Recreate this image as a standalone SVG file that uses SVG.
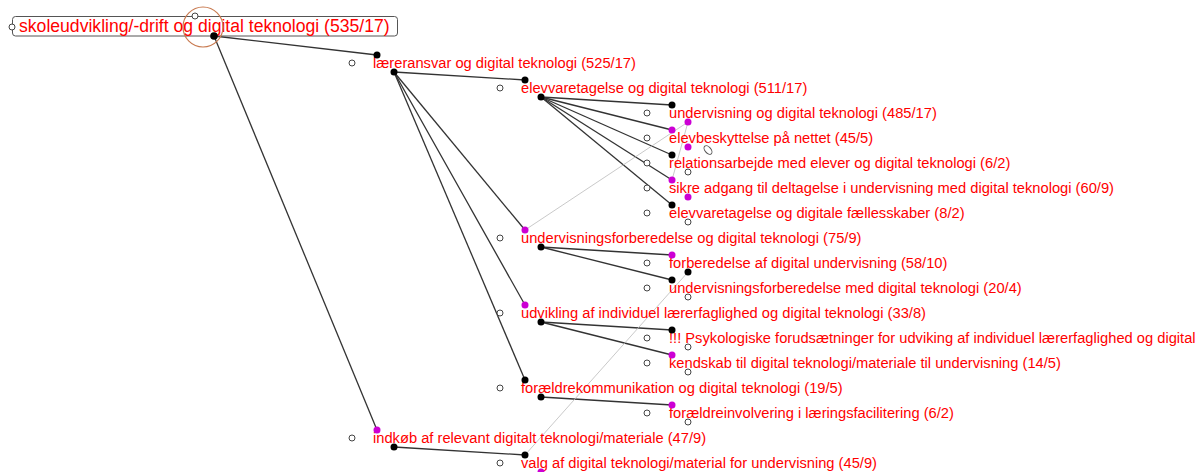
<svg xmlns="http://www.w3.org/2000/svg" width="1204" height="472" viewBox="0 0 1204 472">
<style>
.t{font-family:"Liberation Sans",Arial,sans-serif;font-size:14.7px;fill:#ff0000}
.rt{font-family:"Liberation Sans",Arial,sans-serif;font-size:17.6px;fill:#ff0000}
.o{fill:#fff;stroke:#444;stroke-width:1}
.b{fill:#000}
.m{fill:#cc00d4}
.c{stroke:#333;stroke-width:1.3;fill:none}
.g{stroke:#bbb;stroke-width:0.8;fill:none}
</style>
<rect width="1204" height="472" fill="#fff"/>
<g id="connectors">
<line class="c" x1="214" y1="36" x2="377" y2="55"/>
<line class="c" x1="214" y1="36" x2="377" y2="430"/>
<line class="c" x1="394" y1="72" x2="525" y2="80"/>
<line class="c" x1="394" y1="72" x2="525" y2="230"/>
<line class="c" x1="394" y1="72" x2="525" y2="305"/>
<line class="c" x1="394" y1="72" x2="525" y2="380"/>
<line class="c" x1="541" y1="97" x2="672" y2="105"/>
<line class="c" x1="541" y1="97" x2="672" y2="130"/>
<line class="c" x1="541" y1="97" x2="672" y2="155"/>
<line class="c" x1="541" y1="97" x2="672" y2="180"/>
<line class="c" x1="541" y1="97" x2="672" y2="205"/>
<line class="c" x1="541" y1="247" x2="672" y2="255"/>
<line class="c" x1="541" y1="247" x2="672" y2="280"/>
<line class="c" x1="541" y1="322" x2="672" y2="330"/>
<line class="c" x1="541" y1="322" x2="672" y2="355"/>
<line class="c" x1="541" y1="397" x2="672" y2="405"/>
<line class="c" x1="394" y1="447" x2="525" y2="455"/>
<line class="g" x1="525" y1="230" x2="688" y2="122"/>
<line class="g" x1="672" y1="180" x2="688" y2="122"/>
<line class="g" x1="525" y1="455" x2="688" y2="272"/>
</g>
<g id="n0">
<rect x="12.5" y="16.5" width="385" height="19.5" rx="3" fill="none" stroke="#555" stroke-width="1"/>
<text class="rt" x="19" y="32">skoleudvikling/-drift og digital teknologi (535/17)</text>
<circle cx="203" cy="27" r="20" fill="none" stroke="#c87a50" stroke-width="1.2"/>
<circle class="o" cx="12" cy="27" r="3"/>
<circle class="o" cx="195" cy="16" r="3"/>
<circle class="b" cx="214" cy="36" r="3.8"/>
</g>
<g id="n1">
<text class="t" x="373" y="68">læreransvar og digital teknologi (525/17)</text>
<circle class="o" cx="352" cy="63" r="3"/><circle class="b" cx="377" cy="55" r="3.5"/><circle class="b" cx="394" cy="72" r="3.5"/>
</g>
<g id="n2">
<text class="t" x="521" y="93">elevvaretagelse og digital teknologi (511/17)</text>
<circle class="o" cx="500" cy="88" r="3"/><circle class="b" cx="525" cy="80" r="3.5"/><circle class="b" cx="541" cy="97" r="3.5"/>
</g>
<g id="n3">
<text class="t" x="669" y="118">undervisning og digital teknologi (485/17)</text>
<circle class="o" cx="647" cy="113" r="3"/><circle class="b" cx="672" cy="105" r="3.5"/><circle class="m" cx="688" cy="122" r="3.5"/>
</g>
<g id="n4">
<text class="t" x="669" y="143">elevbeskyttelse på nettet (45/5)</text>
<circle class="o" cx="647" cy="138" r="3"/><circle class="m" cx="672" cy="130" r="3.5"/><circle class="m" cx="688" cy="147" r="3.5"/>
<ellipse cx="708" cy="150" rx="3" ry="5" transform="rotate(-40 708 150)" fill="none" stroke="#555" stroke-width="1"/>
</g>
<g id="n5">
<text class="t" x="669" y="168">relationsarbejde med elever og digital teknologi (6/2)</text>
<circle class="o" cx="647" cy="163" r="3"/><circle class="b" cx="672" cy="155" r="3.5"/><circle class="o" cx="688" cy="172" r="3"/>
</g>
<g id="n6">
<text class="t" x="669" y="193">sikre adgang til deltagelse i undervisning med digital teknologi (60/9)</text>
<circle class="o" cx="647" cy="188" r="3"/><circle class="m" cx="672" cy="180" r="3.5"/><circle class="m" cx="688" cy="197" r="3.5"/>
</g>
<g id="n7">
<text class="t" x="669" y="218">elevvaretagelse og digitale fællesskaber (8/2)</text>
<circle class="o" cx="647" cy="213" r="3"/><circle class="b" cx="672" cy="205" r="3.5"/><circle class="o" cx="688" cy="222" r="3"/>
</g>
<g id="n8">
<text class="t" x="521" y="243">undervisningsforberedelse og digital teknologi (75/9)</text>
<circle class="o" cx="500" cy="238" r="3"/><circle class="m" cx="525" cy="230" r="3.5"/><circle class="b" cx="541" cy="247" r="3.5"/>
</g>
<g id="n9">
<text class="t" x="669" y="268">forberedelse af digital undervisning (58/10)</text>
<circle class="o" cx="647" cy="263" r="3"/><circle class="m" cx="672" cy="255" r="3.5"/><circle class="b" cx="688" cy="272" r="3.5"/>
</g>
<g id="n10">
<text class="t" x="669" y="293">undervisningsforberedelse med digital teknologi (20/4)</text>
<circle class="o" cx="647" cy="288" r="3"/><circle class="b" cx="672" cy="280" r="3.5"/><circle class="o" cx="688" cy="297" r="3"/>
</g>
<g id="n11">
<text class="t" x="521" y="318">udvikling af individuel lærerfaglighed og digital teknologi (33/8)</text>
<circle class="o" cx="500" cy="313" r="3"/><circle class="m" cx="525" cy="305" r="3.5"/><circle class="b" cx="541" cy="322" r="3.5"/>
</g>
<g id="n12">
<text class="t" x="669" y="343">!!! Psykologiske forudsætninger for udviking af individuel lærerfaglighed og digital</text>
<circle class="o" cx="647" cy="338" r="3"/><circle class="b" cx="672" cy="330" r="3.5"/><circle class="o" cx="688" cy="347" r="3"/>
</g>
<g id="n13">
<text class="t" x="669" y="368">kendskab til digital teknologi/materiale til undervisning (14/5)</text>
<circle class="o" cx="647" cy="363" r="3"/><circle class="m" cx="672" cy="355" r="3.5"/><circle class="o" cx="688" cy="372" r="3"/>
</g>
<g id="n14">
<text class="t" x="521" y="393">forældrekommunikation og digital teknologi (19/5)</text>
<circle class="o" cx="500" cy="388" r="3"/><circle class="b" cx="525" cy="380" r="3.5"/><circle class="b" cx="541" cy="397" r="3.5"/>
</g>
<g id="n15">
<text class="t" x="669" y="418">forældreinvolvering i læringsfacilitering (6/2)</text>
<circle class="o" cx="647" cy="413" r="3"/><circle class="m" cx="672" cy="405" r="3.5"/><circle class="o" cx="688" cy="422" r="3"/>
</g>
<g id="n16">
<text class="t" x="373" y="443">indkøb af relevant digitalt teknologi/materiale (47/9)</text>
<circle class="o" cx="352" cy="438" r="3"/><circle class="m" cx="377" cy="430" r="3.5"/><circle class="b" cx="394" cy="447" r="3.5"/>
</g>
<g id="n17">
<text class="t" x="521" y="468">valg af digital teknologi/material for undervisning (45/9)</text>
<circle class="o" cx="500" cy="463" r="3"/><circle class="b" cx="525" cy="455" r="3.5"/><circle class="m" cx="541" cy="472" r="3.5"/>
</g>
</svg>
